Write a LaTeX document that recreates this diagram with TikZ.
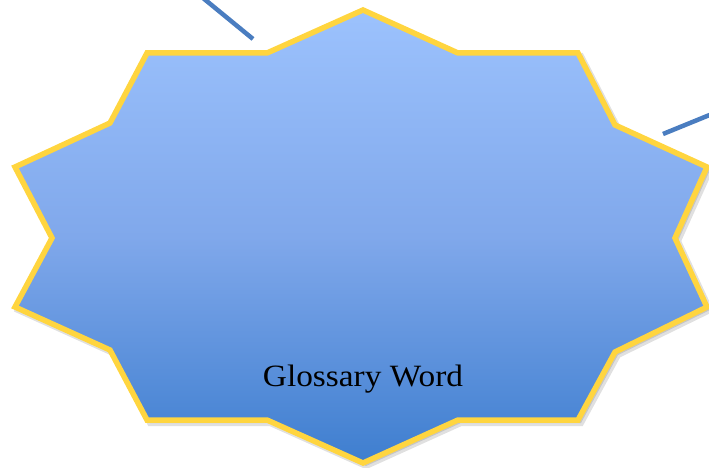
\documentclass[tikz,border=0pt]{standalone}
\usepackage{fontspec}
\setmainfont{Liberation Serif}
\definecolor{startop}{RGB}{156,194,253}
\definecolor{starmid}{RGB}{128,168,235}
\definecolor{starbot}{RGB}{62,126,207}
\definecolor{staredge}{RGB}{255,213,63}
\definecolor{linkblue}{RGB}{74,125,192}
\tikzset{
  starpath/.style={draw=staredge, line width=5.5pt, line join=miter, top color=startop, bottom color=starbot, middle color=starmid},
  shadowpath/.style={fill=black, opacity=0.12, draw=black, draw opacity=0.12, line width=6pt},
  linkline/.style={draw=linkblue, line width=4.5pt},
  label/.style={font=\fontsize{31}{36}\selectfont, text=black, inner sep=0pt, xscale=1.075}
}
\begin{document}
\begin{tikzpicture}[x=1pt,y=-1pt]
\useasboundingbox (0,0) rectangle (709,468);
\def\starcoords{(363,10) -- (458,53) -- (578,53) -- (615,125) -- (707,167) -- (675,238) -- (707,307) -- (615,352) -- (578,420) -- (458,420) -- (363,463) -- (267,420) -- (147,420) -- (110,350) -- (15,307) -- (52,238) -- (15,167) -- (110,123) -- (147,53) -- (267,53) -- cycle}
\begin{scope}[shift={(3,3)}]
\path[shadowpath] \starcoords;
\end{scope}
\path[starpath] \starcoords;
\coordinate (la) at (203,-2);
\coordinate (lb) at (253,39);
\coordinate (ra) at (663,134);
\coordinate (rb) at (712,114);
\draw[linkline] (la) -- (lb);
\draw[linkline] (ra) -- (rb);
\node[label, anchor=base] (word) at (363,386) {Glossary Word};
\end{tikzpicture}
\end{document}
